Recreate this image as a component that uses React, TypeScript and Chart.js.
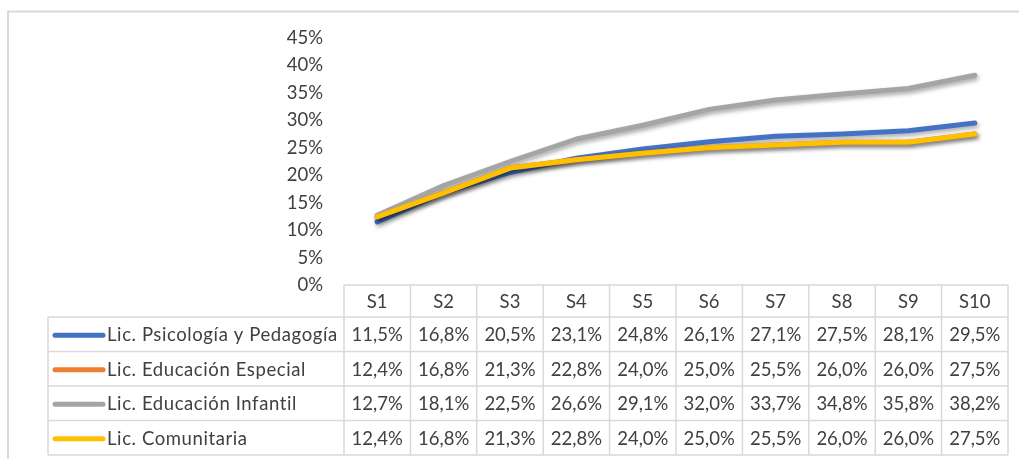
import React, { useEffect, useRef } from "react";
import { Chart, registerables } from "chart.js";

Chart.register(...registerables);

const categories = ["S1", "S2", "S3", "S4", "S5", "S6", "S7", "S8", "S9", "S10"];
const seriesNames = [
  "Lic. Psicología y Pedagogía",
  "Lic. Educación Especial",
  "Lic. Educación Infantil",
  "Lic. Comunitaria",
];
const psicologia = [11.5, 16.8, 20.5, 23.1, 24.8, 26.1, 27.1, 27.5, 28.1, 29.5];
const especial = [12.4, 16.8, 21.3, 22.8, 24.0, 25.0, 25.5, 26.0, 26.0, 27.5];
const infantil = [12.7, 18.1, 22.5, 26.6, 29.1, 32.0, 33.7, 34.8, 35.8, 38.2];
const comunitaria = [12.4, 16.8, 21.3, 22.8, 24.0, 25.0, 25.5, 26.0, 26.0, 27.5];
const seriesValues = [psicologia, especial, infantil, comunitaria];
const seriesColors = ["#4472C4", "#ED7D31", "#A5A5A5", "#FFC000"];
const yMin = 0;
const yMax = 45;
const yStep = 5;

const FONT_FAMILY = "Lato, 'Noto Sans', sans-serif";
const FONT_SIZE = 18.5;
const TEXT_COLOR = "#404040";
const BORDER_COLOR = "#D9D9D9";

const fmt = (v: number) => v.toFixed(1).replace(".", ",") + "%";

const framePlugin = {
  id: "frame",
  beforeDraw(chart: any) {
    const ctx = chart.ctx;
    ctx.save();
    ctx.fillStyle = "#ffffff";
    ctx.fillRect(0, 0, chart.width, chart.height);
    ctx.strokeStyle = BORDER_COLOR;
    ctx.lineWidth = 2;
    ctx.strokeRect(8, 11.5, chart.width + 50, chart.height + 50);
    ctx.restore();
  },
};

const shadowPlugin = {
  id: "lineShadow",
  beforeDatasetDraw(chart: any) {
    const ctx = chart.ctx;
    ctx.save();
    ctx.shadowColor = "rgba(0,0,0,0.35)";
    ctx.shadowBlur = 4;
    ctx.shadowOffsetX = 1.5;
    ctx.shadowOffsetY = 2.5;
  },
  afterDatasetDraw(chart: any) {
    chart.ctx.restore();
  },
};

const tablePlugin = {
  id: "dataTable",
  afterDraw(chart: any) {
    const ctx = chart.ctx;
    const xs = chart.scales.x;
    const area = chart.chartArea;
    const n = categories.length;
    const colW = (area.right - area.left) / n;
    const headTop = area.bottom;
    const headH = 32;
    const rowH = 34.5;
    const legendLeft = 48;
    const tableBottom = headTop + headH + rowH * seriesNames.length;

    ctx.save();
    ctx.strokeStyle = BORDER_COLOR;
    ctx.lineWidth = 1.5;
    ctx.beginPath();
    ctx.moveTo(area.left, headTop);
    ctx.lineTo(area.right, headTop);
    for (let i = 0; i <= n; i++) {
      const x = area.left + i * colW;
      ctx.moveTo(x, headTop);
      ctx.lineTo(x, tableBottom);
    }
    ctx.moveTo(legendLeft, headTop + headH);
    ctx.lineTo(legendLeft, tableBottom);
    for (let r = 0; r <= seriesNames.length; r++) {
      const y = headTop + headH + r * rowH;
      ctx.moveTo(legendLeft, y);
      ctx.lineTo(area.right, y);
    }
    ctx.stroke();

    ctx.fillStyle = TEXT_COLOR;
    ctx.font = `${FONT_SIZE}px ${FONT_FAMILY}`;
    ctx.textBaseline = "middle";
    ctx.textAlign = "center";
    categories.forEach((c, i) => {
      ctx.fillText(c, xs.getPixelForValue(i), headTop + headH / 2 + 1);
    });

    seriesNames.forEach((name, r) => {
      const cy = headTop + headH + r * rowH + rowH / 2 + 1;
      ctx.save();
      ctx.strokeStyle = seriesColors[r];
      ctx.lineWidth = 5;
      ctx.lineCap = "round";
      ctx.beginPath();
      ctx.moveTo(55, cy);
      ctx.lineTo(103, cy);
      ctx.stroke();
      ctx.restore();
      ctx.save();
      ctx.textAlign = "left";
      (ctx as any).letterSpacing = "0.6px";
      ctx.fillText(name, 107, cy);
      ctx.restore();
      ctx.fillStyle = TEXT_COLOR;
      ctx.font = `${FONT_SIZE}px ${FONT_FAMILY}`;
      ctx.textBaseline = "middle";
      ctx.textAlign = "center";
      seriesValues[r].forEach((v, i) => {
        ctx.fillText(fmt(v), xs.getPixelForValue(i), cy);
      });
    });
    ctx.restore();
  },
};

export default function App() {
  const canvasRef = useRef<HTMLCanvasElement | null>(null);

  useEffect(() => {
    if (!canvasRef.current) return;
    const chart = new Chart(canvasRef.current, {
      type: "line",
      data: {
        labels: categories,
        datasets: seriesNames.map((name, i) => ({
          label: name,
          data: seriesValues[i],
          borderColor: seriesColors[i],
          backgroundColor: seriesColors[i],
          borderWidth: 5,
          borderCapStyle: "round",
          borderJoinStyle: "round",
          pointRadius: 0,
          tension: 0,
          fill: false,
          order: seriesNames.length - i,
        })),
      },
      options: {
        responsive: false,
        animation: false,
        events: [],
        layout: { padding: { left: 0, right: 11, top: 38, bottom: 174 } },
        plugins: {
          legend: { display: false },
          tooltip: { enabled: false },
        },
        scales: {
          x: {
            display: false,
            offset: true,
          },
          y: {
            min: yMin,
            max: yMax,
            ticks: {
              stepSize: yStep,
              color: TEXT_COLOR,
              padding: 21,
              font: { family: FONT_FAMILY, size: FONT_SIZE },
              callback: (v: any) => v + "%",
            },
            grid: { display: false, drawTicks: false },
            border: { display: false },
            afterFit: (s: any) => {
              s.width = 344;
            },
          },
        },
      },
      plugins: [framePlugin, shadowPlugin, tablePlugin],
    });
    return () => chart.destroy();
  }, []);

  return (
    <div style={{ position: "absolute", left: 0, top: 0, width: 1019, height: 459 }}>
      <canvas ref={canvasRef} width={1019} height={459} style={{ width: 1019, height: 459, display: "block" }} />
    </div>
  );
}
